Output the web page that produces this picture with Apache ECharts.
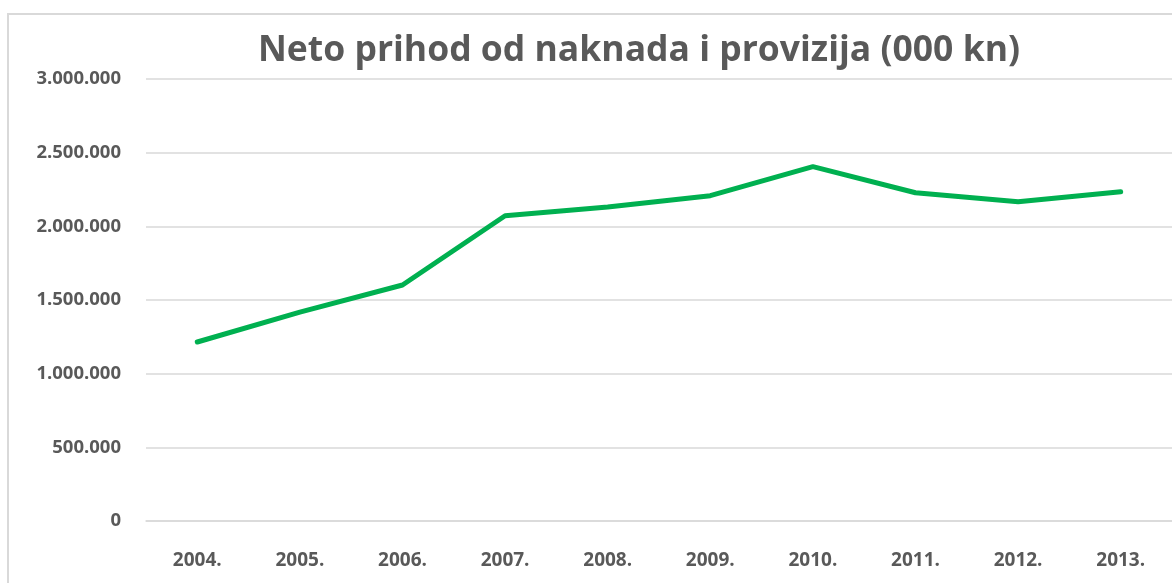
<!DOCTYPE html>
<html>
<head>
<meta charset="utf-8">
<style>
  html, body { margin: 0; padding: 0; background: #fff; }
  #chart { width: 1172px; height: 583px; }
</style>
<script src="https://cdn.jsdelivr.net/npm/echarts@6/dist/echarts.min.js"></script>
</head>
<body>
<div id="chart"></div>
<script>
// godine i neto prihod (000 kn)
var years = ["2004.", "2005.", "2006.", "2007.", "2008.", "2009.", "2010.", "2011.", "2012.", "2013."];
var prihod = [1215000, 1418000, 1602000, 2072000, 2131000, 2208000, 2405000, 2228000, 2167000, 2235000];
var yMin = 0, yMax = 3000000, yStep = 500000;

function fmt(v) {
  return String(v).replace(/\B(?=(\d{3})+(?!\d))/g, ".");
}

var chart = echarts.init(document.getElementById("chart"));
var txt = "#595959";
var option = {
  animation: false,
  textStyle: { fontFamily: "Open Sans" },
  title: {
    text: "Neto prihod od naknada i provizija (000 kn)",
    left: 634,
    textAlign: "center",
    top: 28,
    textStyle: { fontSize: 35.5, fontWeight: "bold", color: txt, fontFamily: "Open Sans" }
  },
  graphic: [{
    type: "rect",
    shape: { x: 8, y: 14, width: 1300, height: 700 },
    style: { fill: "none", stroke: "#d9d9d9", lineWidth: 2 },
    silent: true
  }],
  grid: { left: 146, top: 79, width: 1039, height: 442 },
  xAxis: {
    type: "category",
    data: years,
    boundaryGap: true,
    axisTick: { show: false },
    axisLine: { lineStyle: { color: "#d9d9d9", width: 1.5 } },
    axisLabel: { color: txt, fontSize: 19, fontWeight: "bold", margin: 30 }
  },
  yAxis: {
    type: "value",
    min: yMin,
    max: yMax,
    interval: yStep,
    axisLine: { show: false },
    axisTick: { show: false },
    splitLine: { lineStyle: { color: "#d9d9d9", width: 1.5 } },
    axisLabel: { color: txt, fontSize: 18.5, fontWeight: "bold", margin: 25, formatter: fmt }
  },
  series: [{
    type: "line",
    data: prihod,
    showSymbol: false,
    lineStyle: { color: "#00b050", width: 5, cap: "round", join: "round" }
  }]
};
chart.setOption(option);
</script>
</body>
</html>
